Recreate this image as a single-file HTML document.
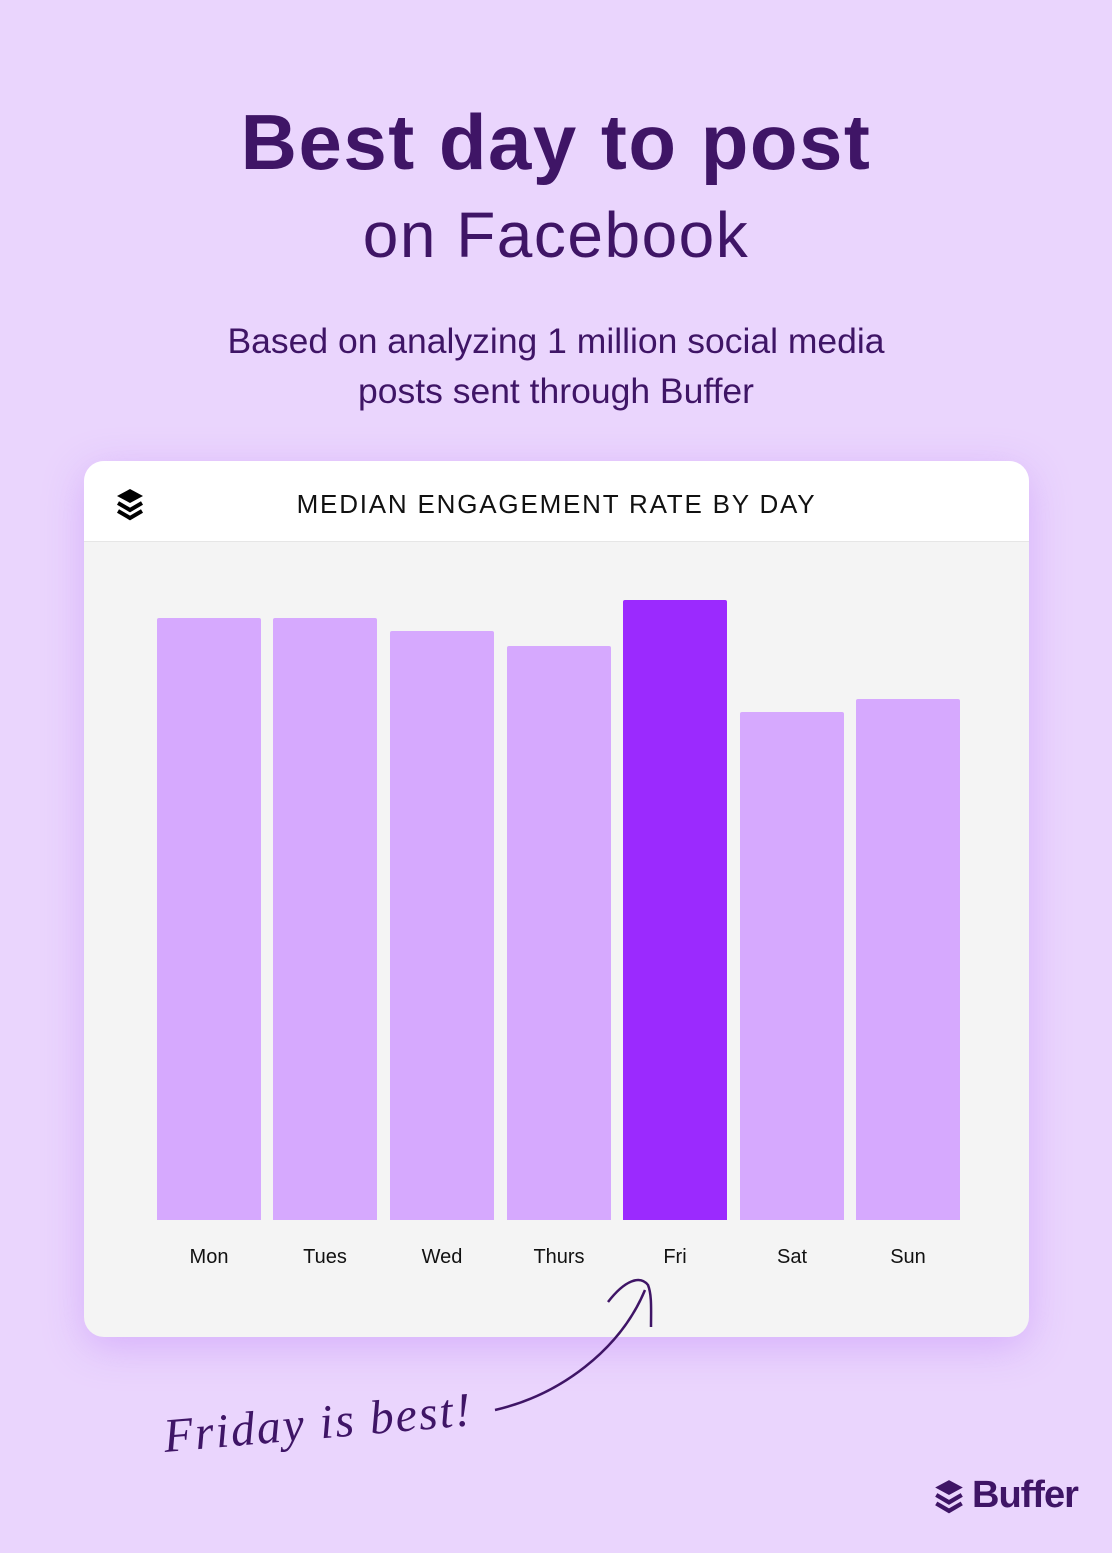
<!DOCTYPE html>
<html><head><meta charset="utf-8"><style>
body{margin:0;width:1112px;height:1553px;background:#EAD5FD;font-family:"Liberation Sans",sans-serif;position:relative;overflow:hidden;color:#3F1566}
.t{position:absolute;left:0;width:1112px;text-align:center}
.card{position:absolute;left:84px;top:461px;width:945px;height:876px;border-radius:20px;background:#F4F4F4;overflow:hidden;box-shadow:0 10px 40px rgba(190,130,250,.45)}
.hd{position:absolute;left:0;top:0;width:945px;height:80px;background:#fff;border-bottom:1px solid #e6e6e6}
.bar{position:absolute;width:104px;background:#D6A9FE;border-radius:2px 2px 0 0}
.lb{position:absolute;top:785px;width:104px;text-align:center;font-size:20px;color:#111}
</style></head><body>
<div class="t" style="top:97px;font-size:78px;font-weight:bold;letter-spacing:1.5px">Best day to post</div>
<div class="t" style="top:198px;font-size:64px;letter-spacing:1.5px">on Facebook</div>
<div class="t" style="top:316px;font-size:35.5px;line-height:50px">Based on analyzing 1 million social media<br>posts sent through Buffer</div>
<div class="card">
<div class="hd">
<svg style="position:absolute;left:30px;top:26px" width="32" height="34" viewBox="0 0 32 34"><path d="M16 2 L29 9 L16 16 L3 9Z" fill="#000"/><path d="M4 16 L16 23 L28 16" stroke="#000" stroke-width="4" fill="none"/><path d="M4 24 L16 31 L28 24" stroke="#000" stroke-width="4" fill="none"/></svg>
<div style="position:absolute;left:0;width:945px;top:28px;text-align:center;font-size:26px;letter-spacing:1.8px;color:#111">MEDIAN ENGAGEMENT RATE BY DAY</div>
</div>
<div class="bar" style="left:73px;top:157px;height:602px"></div>
<div class="bar" style="left:189px;top:157px;height:602px"></div>
<div class="bar" style="left:306px;top:170px;height:589px"></div>
<div class="bar" style="left:423px;top:185px;height:574px"></div>
<div class="bar" style="left:539px;top:139px;height:620px;background:#9B2AFE"></div>
<div class="bar" style="left:656px;top:251px;height:508px"></div>
<div class="bar" style="left:772px;top:238px;height:521px"></div>
<div class="lb" style="left:73px">Mon</div><div class="lb" style="left:189px">Tues</div><div class="lb" style="left:306px">Wed</div><div class="lb" style="left:423px">Thurs</div><div class="lb" style="left:539px">Fri</div><div class="lb" style="left:656px">Sat</div><div class="lb" style="left:772px">Sun</div>
</div>
<svg style="position:absolute;left:0;top:0" width="1112" height="1553">
<path d="M495 1410 C560 1395 620 1350 645 1290" stroke="#3F1566" stroke-width="2.5" fill="none"/>
<path d="M608 1302 C625 1280 640 1275 648 1285 C652 1295 651 1310 651 1327" stroke="#3F1566" stroke-width="2.5" fill="none"/>
<text x="165" y="1452" font-family="Liberation Serif,serif" font-style="italic" font-size="48" letter-spacing="2" fill="#3F1566" transform="rotate(-5 165 1452)">Friday is best!</text>
</svg>
<svg style="position:absolute;left:932px;top:1476px" width="34" height="40" viewBox="0 0 32 34"><path d="M16 2 L29 9 L16 16 L3 9Z" fill="#3F1566"/><path d="M4 16 L16 23 L28 16" stroke="#3F1566" stroke-width="4" fill="none"/><path d="M4 24 L16 31 L28 24" stroke="#3F1566" stroke-width="4" fill="none"/></svg>
<div style="position:absolute;left:972px;top:1474px;font-size:38px;font-weight:bold;letter-spacing:-1px">Buffer</div>
</body></html>
